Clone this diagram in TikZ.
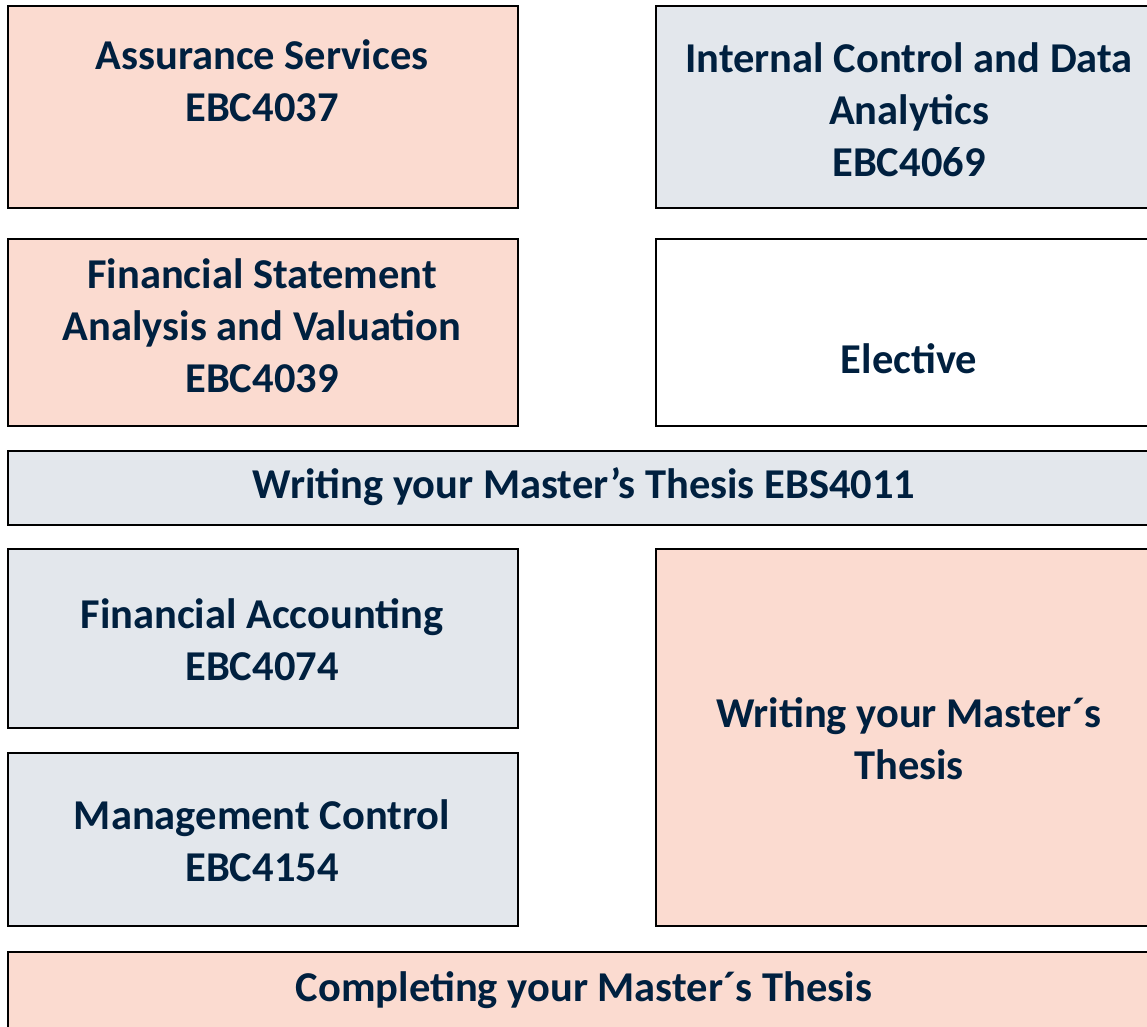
\documentclass[tikz,border=0pt]{standalone}
\usepackage{fontspec}
\setmainfont{Carlito}
\definecolor{peach}{HTML}{FBDBD0}
\definecolor{slate}{HTML}{E3E7EC}
\definecolor{navy}{HTML}{00203F}
\tikzset{
  cell/.style={draw=black, line width=1.6pt, anchor=north west, inner sep=0pt},
  title/.style={text=navy, font=\bfseries\fontsize{42.5}{52}\selectfont, align=center},
}
\begin{document}
\begin{tikzpicture}[x=1pt,y=-1pt]
  \useasboundingbox[fill=white] (0,0) rectangle (1147,1026);
  % first block
  \node[cell, fill=peach, minimum width=510pt, minimum height=202pt] (assur) at (7,5) {};
  \node[cell, fill=slate, minimum width=507pt, minimum height=202pt] (icda) at (655,5) {};
  \node[cell, fill=peach, minimum width=510pt, minimum height=187pt] (fsav) at (7,238) {};
  \node[cell, fill=white, minimum width=507pt, minimum height=187pt] (elect) at (655,238) {};
  \node[cell, fill=slate, minimum width=1155pt, minimum height=74pt] (wymt) at (7,450) {};
  % second block
  \node[cell, fill=slate, minimum width=510pt, minimum height=179pt] (facc) at (7,548) {};
  \node[cell, fill=slate, minimum width=510pt, minimum height=173pt] (mctl) at (7,752) {};
  \node[cell, fill=peach, minimum width=507pt, minimum height=377pt] (thes) at (655,548) {};
  \node[cell, fill=peach, minimum width=1155pt, minimum height=90pt] (compl) at (7,951) {};
  % texts
  \node[title] (t1) at (262,81) {Assurance Services\\EBC4037};
  \node[title] (t2) at (909,110) {Internal Control and Data\\Analytics\\EBC4069};
  \node[title] (t3) at (262,326) {Financial Statement\\Analysis and Valuation\\EBC4039};
  \node[title] (t4) at (909,359) {Elective};
  \node[title] (t5) at (584,487) {Writing your Master’s Thesis EBS4011};
  \node[title] (t6) at (262,640) {Financial Accounting\\EBC4074};
  \node[title] (t7) at (262,841) {Management Control\\EBC4154};
  \node[title] (t8) at (909,739) {Writing your Master´s\\Thesis};
  \node[title] (t9) at (584,990) {Completing your Master´s Thesis};
\end{tikzpicture}
\end{document}
